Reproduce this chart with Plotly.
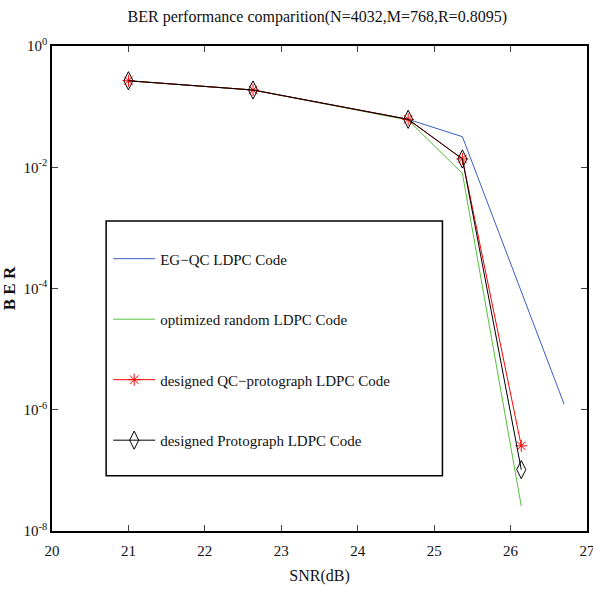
import plotly.graph_objects as go

snr = [21.0, 22.63, 24.66, 25.37, 26.14]
snr_eg = [21.0, 22.63, 24.66, 25.37, 26.70]
ber_eg = [0.267, 0.188, 0.0617, 0.0319, 1.24e-6]
ber_rand = [0.267, 0.188, 0.0600, 0.0079, 2.57e-8]
ber_qcp = [0.267, 0.188, 0.0617, 0.0137, 2.54e-7]
ber_proto = [0.267, 0.188, 0.0617, 0.0137, 1.03e-7]

xticks = [20, 21, 22, 23, 24, 25, 26, 27]
yticks = [1e0, 1e-2, 1e-4, 1e-6, 1e-8]
ytext = ["10<sup>0</sup>", "10<sup>-2</sup>", "10<sup>-4</sup>", "10<sup>-6</sup>", "10<sup>-8</sup>"]

names = ["EG\u2212QC LDPC Code", "optimized random LDPC Code",
         "designed QC\u2212protograph LDPC Code", "designed Protograph LDPC Code"]

FONT = "Liberation Serif"

fig = go.Figure()
fig.add_trace(go.Scatter(x=snr_eg, y=ber_eg, mode="lines", name=names[0],
                         line=dict(color="#3a5fc4", width=1), legendgroup="a"))
fig.add_trace(go.Scatter(x=snr, y=ber_rand, mode="lines", name=names[1],
                         line=dict(color="#55c03a", width=1), legendgroup="b"))
fig.add_trace(go.Scatter(x=snr, y=ber_qcp, mode="lines+markers", name=names[2],
                         line=dict(color="#ff0000", width=1),
                         marker=dict(symbol="asterisk-open", size=10,
                                     line=dict(color="#ff0000", width=1)),
                         legendgroup="c"))
fig.add_trace(go.Scatter(x=snr, y=ber_proto, mode="lines+markers", name=names[3],
                         line=dict(color="#000000", width=1),
                         marker=dict(symbol="diamond-tall-open", size=13,
                                     color="#000000", line=dict(color="#000000", width=1)),
                         legendgroup="d"))

# legend box
fig.add_shape(type="rect", xref="paper", yref="paper",
              x0=0.1012, x1=0.7298, y0=0.114, y1=0.639,
              line=dict(color="black", width=1.5), fillcolor="white", layer="below")

fig.update_layout(
    width=593, height=596,
    margin=dict(l=52, r=6, t=46, b=65),
    paper_bgcolor="white", plot_bgcolor="white",
    font=dict(family=FONT, size=15, color="#111"),
    title=dict(text="BER performance comparition(N=4032,M=768,R=0.8095)",
               x=0.535, xanchor="center", y=0.972, yanchor="middle",
               font=dict(family=FONT, size=16, color="#111")),
    showlegend=True,
    legend=dict(x=0.105, xanchor="left", y=0.595, yanchor="top",
                bgcolor="rgba(0,0,0,0)", borderwidth=0,
                tracegroupgap=38, itemwidth=42,
                font=dict(family=FONT, size=15, color="#111")),
    xaxis=dict(range=[20, 27], tickvals=xticks, ticks="inside", ticklen=6,
               showline=True, linecolor="black", linewidth=1.5, mirror="ticks",
               showgrid=False, zeroline=False, automargin=False,
               ticklabeloverflow="allow", ticklabelstandoff=5,
               tickfont=dict(family=FONT, size=15, color="#111"),
               title=dict(text="SNR(dB)", font=dict(family=FONT, size=16, color="#111"),
                          standoff=12)),
    yaxis=dict(type="log", range=[-8, 0], tickvals=yticks, ticktext=ytext,
               ticks="inside", ticklen=6,
               showline=True, linecolor="black", linewidth=1.5, mirror="ticks",
               showgrid=False, zeroline=False, automargin=False,
               ticklabeloverflow="allow",
               tickfont=dict(family=FONT, size=15, color="#111"),
               title=dict(text="<b>B E R</b>", font=dict(family=FONT, size=17, color="#111"),
                          standoff=4)),
)

fig.write_html("out.html")
